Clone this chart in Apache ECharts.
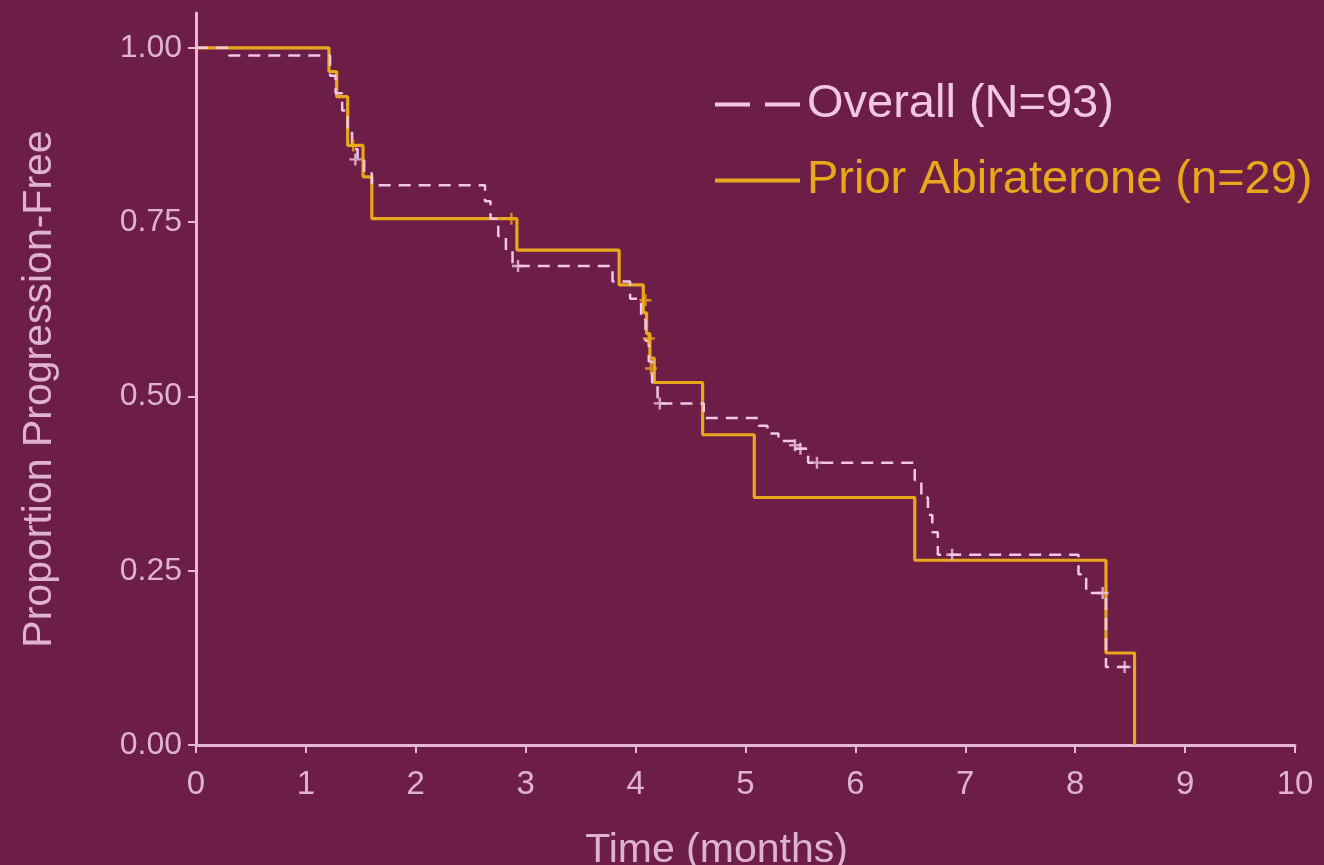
<!DOCTYPE html>
<html>
<head>
<meta charset="utf-8">
<script src="https://cdn.jsdelivr.net/npm/echarts@6/dist/echarts.min.js"></script>
<style>
html,body{margin:0;padding:0;background:#6c1e46;}
#c{width:1324px;height:865px;}
</style>
</head>
<body>
<div id="c"></div>
<script>
// Kaplan-Meier step data (time in months, proportion progression-free)
var abiTimes  = [0, 1.21, 1.28, 1.38, 1.52, 1.60, 2.92, 3.85, 4.07, 4.10, 4.13, 4.17, 4.61, 5.08, 6.54, 8.28, 8.54];
var abiValues = [1.00, 0.966, 0.930, 0.860, 0.815, 0.755, 0.710, 0.660, 0.620, 0.590, 0.555, 0.520, 0.445, 0.355, 0.265, 0.132, 0.000];

var allTimes  = [0, 0.30, 1.22, 1.27, 1.33, 1.38, 1.42, 1.47, 1.53, 1.60, 2.63, 2.68, 2.75, 2.82, 2.88, 3.79, 3.95, 4.05, 4.09, 4.12, 4.15, 4.20, 4.62, 5.12, 5.20, 5.30, 5.45, 5.57, 6.54, 6.60, 6.66, 6.70, 6.75, 8.03, 8.10, 8.28, 8.50];
var allValues = [1.00, 0.989, 0.960, 0.935, 0.910, 0.880, 0.855, 0.840, 0.820, 0.803, 0.780, 0.755, 0.730, 0.710, 0.687, 0.665, 0.640, 0.610, 0.580, 0.550, 0.520, 0.490, 0.469, 0.458, 0.447, 0.436, 0.425, 0.405, 0.380, 0.355, 0.330, 0.305, 0.273, 0.245, 0.218, 0.112, 0.112];

// censor marks
var abiCensorTimes  = [1.43, 2.87, 4.09, 4.12, 4.14];
var abiCensorValues = [0.860, 0.755, 0.638, 0.583, 0.540];
var allCensorTimes  = [1.45, 2.93, 4.22, 5.45, 5.50, 5.65, 6.88, 8.25, 8.45];
var allCensorValues = [0.840, 0.687, 0.490, 0.430, 0.425, 0.405, 0.273, 0.218, 0.112];

var yTicks = [0, 0.25, 0.5, 0.75, 1.0];
var seriesNames = ['Overall (N=93)', 'Prior Abiraterone (n=29)'];

function pairs(xs, ys){ return xs.map(function(x,i){ return [x, ys[i]]; }); }

var GOLD = '#e9a81c';
var PINK = '#f1c6e6';
var AXIS = '#e8b6da';
var TXT  = '#dfb2d2';
var FONT = 'Liberation Sans, Arial, sans-serif';
var plus = 'path://M-1.2,-6h2.4v12h-2.4z M-6,-1.2h12v2.4h-12z';

var chart = echarts.init(document.getElementById('c'), null, {renderer:'canvas'});
chart.setOption({
  backgroundColor: '#6c1e46',
  animation: false,
  textStyle: {fontFamily: FONT},
  grid: {left: 196, right: 29, top: 13, bottom: 120, containLabel: false, outerBoundsMode: 'none'},
  legend: {
    orient: 'vertical',
    left: 710, top: 76,
    itemWidth: 85, itemHeight: 4, itemGap: 29,
    textStyle: {fontSize: 47, fontFamily: FONT, padding: [0,0,0,2]},
    data: [
      {name: seriesNames[0], icon: 'path://M0,0h35v4h-35z M50,0h35v4h-35z', itemStyle:{color: PINK}, textStyle:{color: PINK}},
      {name: seriesNames[1], icon: 'rect', itemStyle:{color: GOLD}, textStyle:{color: GOLD}}
    ],
    selectedMode: false
  },
  xAxis: {
    type: 'value', min: 0, max: 10, interval: 1,
    name: 'Time (months)', nameLocation: 'middle', nameGap: 85,
    nameTextStyle: {color: TXT, fontSize: 41, fontFamily: FONT, padding: [0, 58, 0, 0]},
    axisLine: {show: true, lineStyle: {color: AXIS, width: 3}},
    axisTick: {show: true, length: 8, lineStyle: {color: AXIS, width: 2}},
    axisLabel: {color: TXT, fontSize: 33, margin: 23, fontFamily: FONT},
    splitLine: {show: false}
  },
  yAxis: {
    type: 'value', min: 0, max: 1.05,
    name: 'Proportion Progression-Free', nameLocation: 'middle', nameGap: 136,
    nameTextStyle: {color: TXT, fontSize: 41, fontFamily: FONT, padding: [0, 20, 0, 0]},
    axisLine: {show: true, lineStyle: {color: AXIS, width: 3}},
    axisTick: {show: true, length: 8, lineStyle: {color: AXIS, width: 2}, customValues: yTicks},
    axisLabel: {color: TXT, fontSize: 32, margin: 14, fontFamily: FONT, customValues: yTicks,
      formatter: function(v){ return v.toFixed(2); }},
    splitLine: {show: false}
  },
  series: [
    {
      name: seriesNames[1], type: 'line', step: 'end', showSymbol: false, symbol: 'none',
      data: pairs(abiTimes, abiValues),
      lineStyle: {color: GOLD, width: 3.2}, itemStyle: {color: GOLD}, z: 2
    },
    {
      name: seriesNames[0], type: 'line', step: 'end', showSymbol: false, symbol: 'none',
      data: pairs(allTimes, allValues),
      lineStyle: {color: PINK, width: 2.5, type: [12, 8]}, itemStyle: {color: PINK}, z: 3
    },
    {
      name: 'abiCensor', type: 'scatter', symbol: plus, symbolSize: 12,
      data: pairs(abiCensorTimes, abiCensorValues),
      itemStyle: {color: GOLD}, z: 4, silent: true
    },
    {
      name: 'allCensor', type: 'scatter', symbol: plus, symbolSize: 12,
      data: pairs(allCensorTimes, allCensorValues),
      itemStyle: {color: PINK}, z: 5, silent: true
    }
  ]
});
</script>
</body>
</html>
